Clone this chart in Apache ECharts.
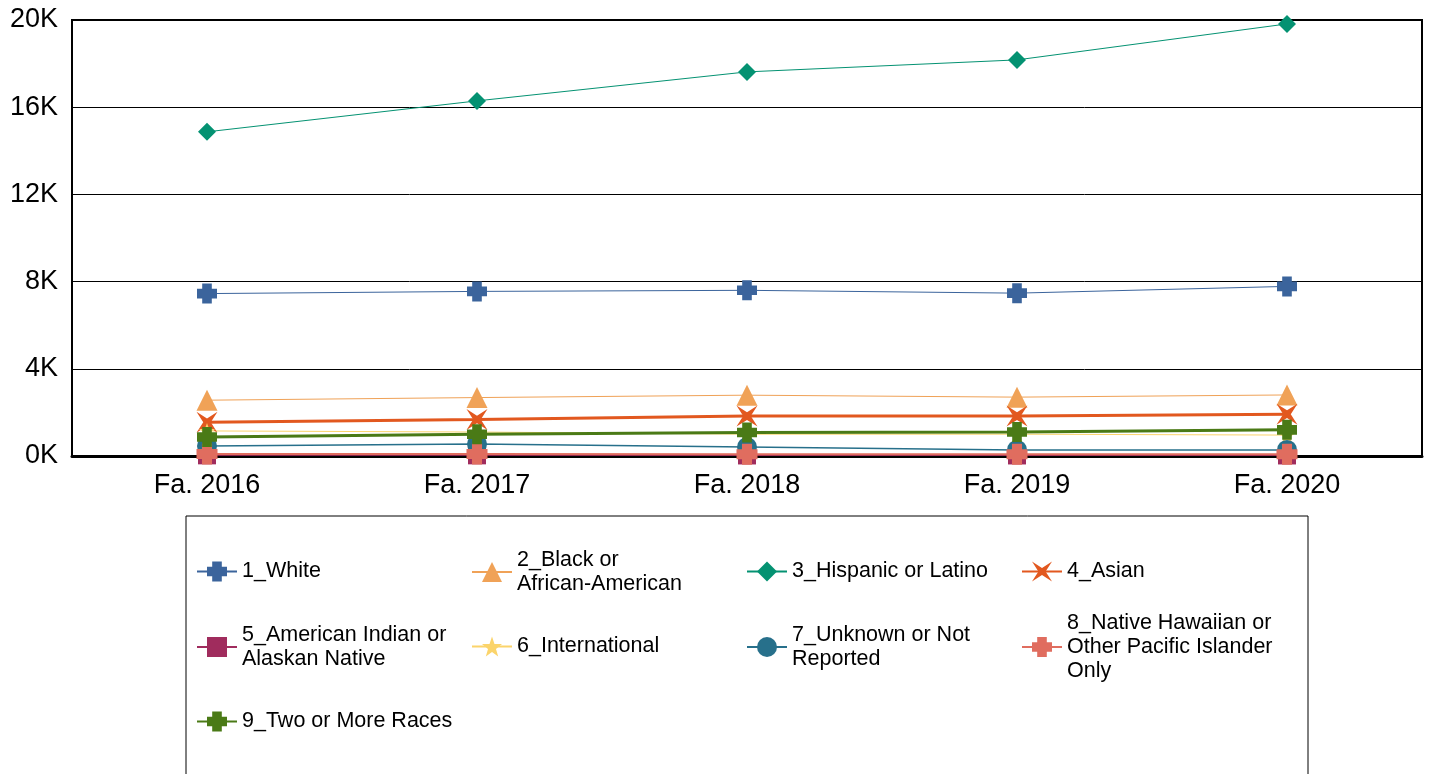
<!DOCTYPE html>
<html>
<head>
<meta charset="utf-8">
<script src="https://cdn.jsdelivr.net/npm/echarts@6/dist/echarts.min.js"></script>
<style>
  html, body { margin: 0; padding: 0; background: #fff; }
  #chart { width: 1430px; height: 774px; }
</style>
</head>
<body>
<div id="chart"></div>
<script>
// terms on the x axis
const categories = ['Fa. 2016', 'Fa. 2017', 'Fa. 2018', 'Fa. 2019', 'Fa. 2020'];
const yTicks = [0, 4000, 8000, 12000, 16000, 20000];

// headcount per group
const white = [7450, 7550, 7600, 7470, 7780];
const black = [2560, 2680, 2790, 2700, 2800];
const hispanic = [14870, 16290, 17620, 18170, 19820];
const asian = [1550, 1670, 1830, 1830, 1920];
const amIndian = [30, 30, 25, 25, 25];
const international = [1150, 1100, 1000, 1000, 960];
const unknown = [460, 550, 410, 280, 280];
const nativeHawaiian = [90, 90, 80, 80, 80];
const twoOrMore = [870, 1000, 1080, 1100, 1200];

const seriesNames = [
  '1_White', '2_Black or African-American', '3_Hispanic or Latino', '4_Asian',
  '5_American Indian or Alaskan Native', '6_International', '7_Unknown or Not Reported',
  '8_Native Hawaiian or Other Pacific Islander Only', '9_Two or More Races'
];
const legendLabels = [
  '1_White', '2_Black or\nAfrican-American', '3_Hispanic or Latino', '4_Asian',
  '5_American Indian or\nAlaskan Native', '6_International', '7_Unknown or Not\nReported',
  '8_Native Hawaiian or\nOther Pacific Islander\nOnly', '9_Two or More Races'
];

const plus = 'path://M2.6,0H7.4V2.6H10V7.4H7.4V10H2.6V7.4H0V2.6H2.6Z';
const xstar = 'path://M0,0L5,3.2L10,0L6.8,5L10,10L5,6.8L0,10L3.2,5Z';
const star5 = 'path://M5,0L6.18,3.38L9.76,3.45L6.9,5.62L7.94,9.05L5,7L2.06,9.05L3.1,5.62L0.24,3.45L3.82,3.38Z';

const styles = [
  { data: white, color: '#3b649c', symbol: plus, size: 20, width: 1 },
  { data: black, color: '#f0a257', symbol: 'triangle', size: 21, width: 1 },
  { data: hispanic, color: '#049272', symbol: 'diamond', size: 18, width: 1 },
  { data: asian, color: '#e2581f', symbol: xstar, size: 21, width: 3 },
  { data: amIndian, color: '#a02c5d', symbol: 'rect', size: 18, width: 1 },
  { data: international, color: '#fbd46b', symbol: star5, size: 16, width: 1 },
  { data: unknown, color: '#27708b', symbol: 'circle', size: 20, width: 1.5 },
  { data: nativeHawaiian, color: '#e06d5f', symbol: plus, size: 21, width: 2 },
  { data: twoOrMore, color: '#4a7a16', symbol: plus, size: 20, width: 3 }
];

const font = 'Liberation Sans, Arial, sans-serif';
const colX = [196, 471, 746, 1021];
const rowY = [572, 647, 722];
const iconH = 25;

const legends = seriesNames.map((name, i) => {
  const lines = legendLabels[i].split('\n').length;
  return {
    data: [name],
    left: colX[i % 4],
    top: rowY[Math.floor(i / 4)] - Math.max(iconH / 2, lines * 12),
    padding: 0,
    itemWidth: 40,
    itemHeight: iconH,
    itemGap: 0,
    selectedMode: false,
    formatter: () => legendLabels[i],
    textStyle: { fontFamily: font, fontSize: 21.5, lineHeight: 24, color: '#000', padding: [0, 0, 0, 0] }
  };
});

const chart = echarts.init(document.getElementById('chart'));
chart.setOption({
  animation: false,
  backgroundColor: '#fff',
  grid: { left: 72, top: 20, right: 8, bottom: 318, show: true, borderColor: '#000', borderWidth: 2 },
  xAxis: {
    type: 'category',
    data: categories,
    boundaryGap: true,
    axisLine: { lineStyle: { color: '#000', width: 3 } },
    axisTick: { show: false },
    axisLabel: { fontFamily: font, fontSize: 27, color: '#000', margin: 16 }
  },
  yAxis: {
    type: 'value',
    min: yTicks[0],
    max: yTicks[yTicks.length - 1],
    interval: 4000,
    axisLine: { show: true, lineStyle: { color: '#000', width: 2 } },
    axisTick: { show: false },
    splitLine: { lineStyle: { color: '#000', width: 1 } },
    axisLabel: { fontFamily: font, fontSize: 27, color: '#000', margin: 14, formatter: v => (v / 1000) + 'K' }
  },
  legend: legends,
  graphic: [{
    type: 'rect',
    shape: { x: 186, y: 516, width: 1122, height: 300 },
    style: { fill: 'none', stroke: '#000', lineWidth: 1 },
    silent: true
  }],
  series: seriesNames.map((name, i) => ({
    name: name,
    type: 'line',
    data: styles[i].data,
    symbol: styles[i].symbol,
    symbolSize: styles[i].size,
    showAllSymbol: true,
    itemStyle: { color: styles[i].color },
    lineStyle: { color: styles[i].color, width: styles[i].width },
    emphasis: { disabled: true }
  }))
});
</script>
</body>
</html>
